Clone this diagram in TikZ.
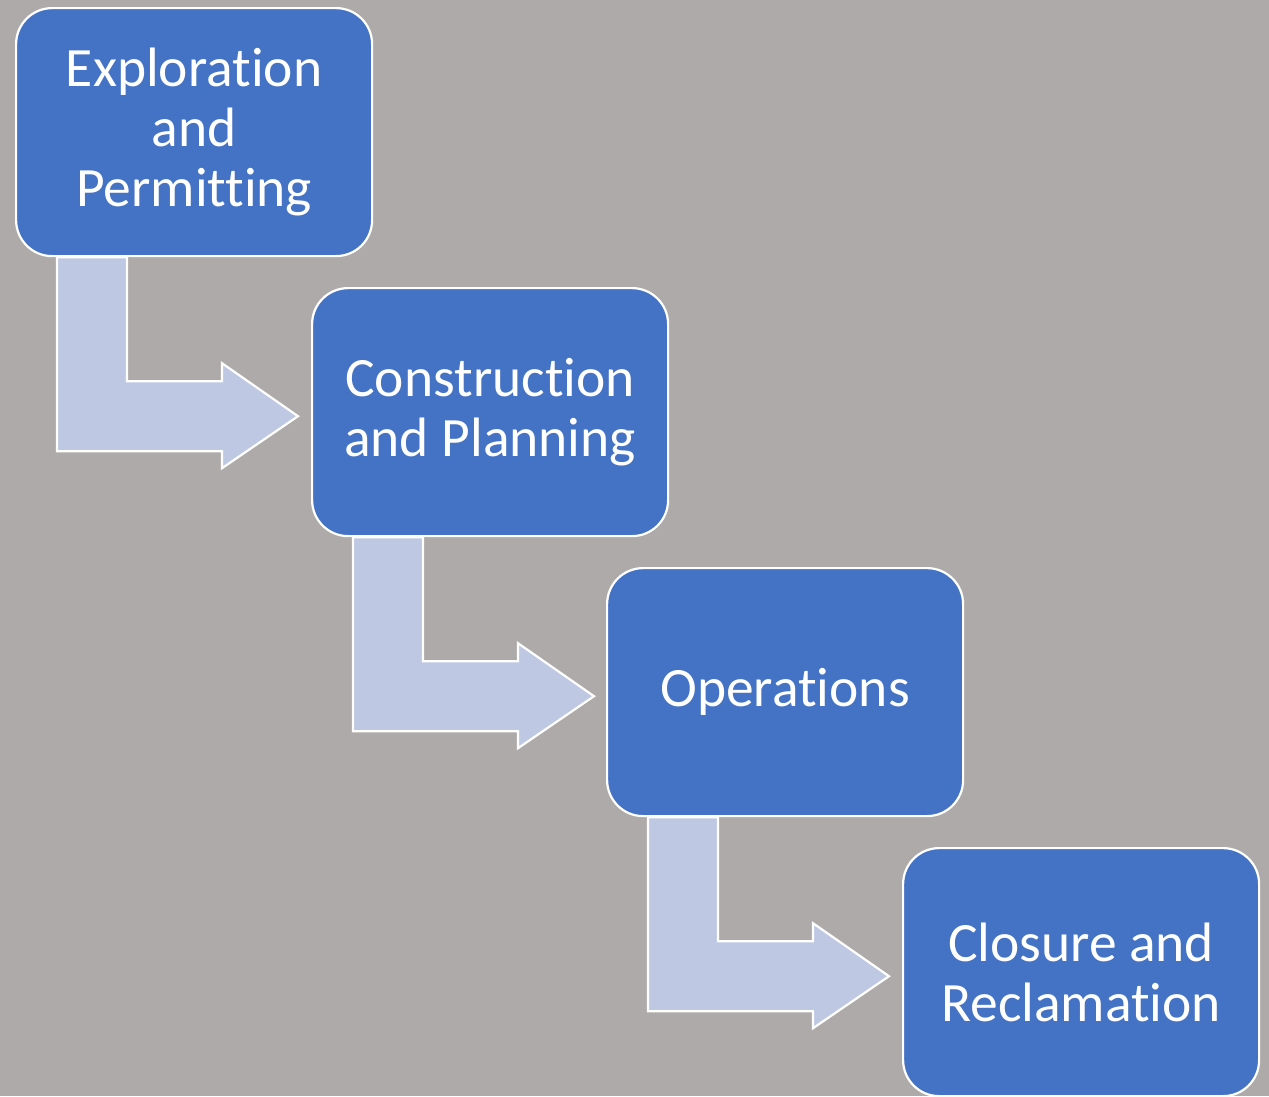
\documentclass[tikz,border=0pt]{standalone}
\usepackage{fontspec}
\setmainfont[Ligatures={NoCommon}]{Carlito}
\usetikzlibrary{calc}
\pgfdeclarelayer{background}
\pgfdeclarelayer{canvas}
\pgfsetlayers{canvas,background,main}
\definecolor{bgc}{HTML}{AEAAA9}
\definecolor{boxc}{HTML}{4472C4}
\definecolor{arrc}{HTML}{BEC8E3}
\tikzset{
  stage/.style={draw=white, line width=2.2pt, fill=boxc, rounded corners=36pt,
    minimum width=356pt, minimum height=248pt, inner sep=0pt, text=white,
    align=center, font=\fontsize{55.5}{60}\selectfont, anchor=north west},
  bentarrow/.style={draw=white, line width=2.2pt, fill=arrc, line join=miter}
}
\begin{document}
\begin{tikzpicture}[x=1pt,y=-1pt]
\begin{pgfonlayer}{canvas}
\fill[bgc] (0,0) rectangle (1269,1096);
\end{pgfonlayer}
\useasboundingbox (0,0) rectangle (1269,1096);
\node[stage] (b1) at (15,7) {Exploration\\and\\Permitting};
\node[stage] (b2) at (311,287) {Construction\\and Planning};
\node[stage] (b3) at (606,567) {Operations};
\node[stage] (b4) at (902,847) {Closure and\\Reclamation};
\begin{pgfonlayer}{background}
\foreach \s in {b1,b2,b3}{
  \draw[bentarrow] ($(\s.south west)+(42,0)$) -- ($(\s.south west)+(112,0)$)
    -- ($(\s.south west)+(112,124)$) -- ($(\s.south west)+(207,124)$)
    -- ($(\s.south west)+(207,106)$) -- ($(\s.south west)+(283,159)$)
    -- ($(\s.south west)+(207,211)$) -- ($(\s.south west)+(207,194)$)
    -- ($(\s.south west)+(42,194)$) -- cycle;
}
\end{pgfonlayer}
\end{tikzpicture}
\end{document}
